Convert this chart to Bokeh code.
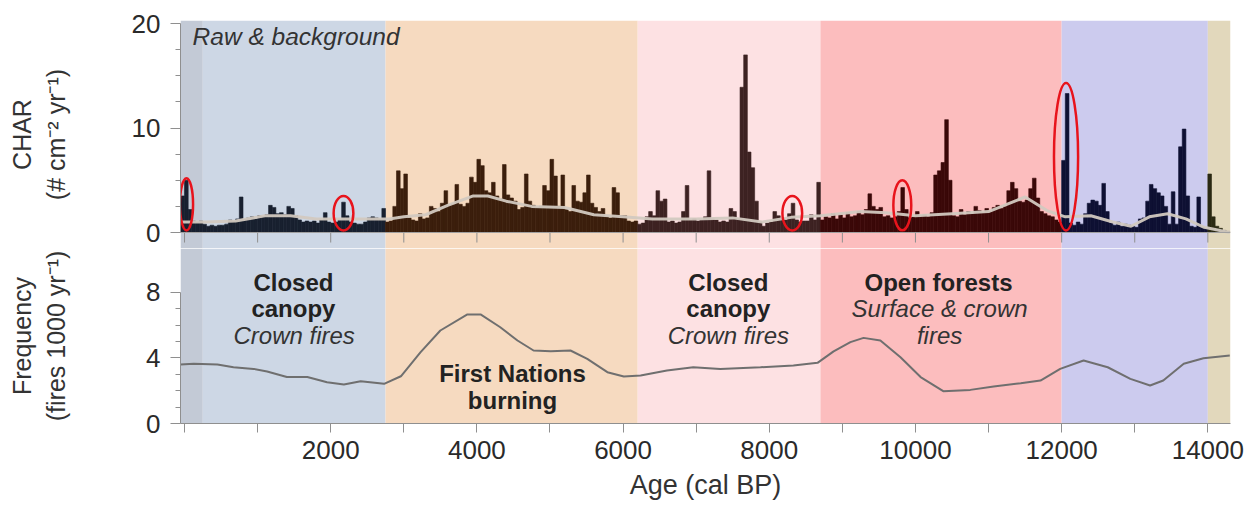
import numpy as np
from bokeh.plotting import figure
from bokeh.layouts import column
from bokeh.models import (ColumnDataSource, BoxAnnotation, FixedTicker, Range1d, Span)
from bokeh.core.properties import value
from bokeh.embed import file_html
from bokeh.resources import INLINE

FONT = "Liberation Sans"

# ---------------- data ----------------
# vegetation / fire-regime zones (cal BP)
zone_start = [-55, 250, 2750, 6200, 8700, 12000, 14000]
zone_end = [250, 2750, 6200, 8700, 12000, 14000, 14310]
zone_fill = ["#c3cad6", "#cdd7e5", "#f6dac0", "#fde1e3", "#fcbdbe", "#cccbee", "#e2d8bc"]
zone_bar = ["#18202f", "#18202f", "#3b1e0c", "#3d2222", "#3a0808", "#0e1033", "#2b2a14"]

# raw CHAR, 50-yr bins starting at -50 cal BP
char_bin_start = -50
char_bin_width = 50
char_pre = [3.5]
char_m00 = [5.0, 2.2, 1.1, 1.0, 1.1, 0.8, 0.6, 0.7, 0.6, 0.7, 0.7, 0.8, 1.2, 1.1, 1.3, 3.4, 1.3, 1.4, 1.5, 1.3]
char_m01 = [1.6, 1.5, 1.7, 2.6, 2.4, 1.8, 1.9, 1.7, 2.5, 2.3, 1.6, 1.2, 1.0, 1.1, 1.0, 1.1, 0.9, 1.2, 1.9, 1.0]
char_m02 = [0.9, 1.0, 1.2, 2.9, 1.6, 1.0, 0.9, 0.8, 0.8, 1.0, 1.4, 1.5, 1.4, 1.3, 2.3, 1.0, 1.1, 2.5, 5.9, 4.2]
char_m03 = [5.6, 1.4, 1.2, 1.1, 1.8, 1.3, 1.4, 2.5, 2.3, 2.0, 2.8, 4.0, 2.6, 2.7, 4.6, 2.7, 2.5, 2.8, 5.3, 4.8]
char_m04 = [7.0, 6.4, 4.0, 3.8, 4.8, 3.5, 3.2, 6.5, 3.6, 3.3, 3.0, 2.2, 2.4, 5.6, 3.0, 2.6, 2.4, 2.5, 4.5, 4.0]
char_m05 = [7.0, 5.4, 2.5, 5.5, 2.2, 2.0, 4.5, 3.0, 2.9, 3.8, 5.5, 2.8, 2.4, 2.0, 2.3, 1.5, 1.4, 4.3, 3.8, 1.6]
char_m06 = [1.6, 1.1, 1.0, 1.1, 0.8, 0.9, 1.5, 2.0, 1.6, 4.0, 3.0, 3.2, 1.0, 1.1, 0.9, 1.0, 2.0, 4.5, 1.2, 1.3]
char_m07 = [1.1, 1.2, 1.5, 5.9, 1.3, 1.2, 1.0, 1.1, 1.0, 2.3, 2.0, 1.3, 13.9, 17.0, 7.7, 6.2, 3.0, 1.0, 0.6, 0.9]
char_m08 = [1.0, 2.0, 1.6, 1.3, 1.2, 1.8, 2.8, 1.2, 1.0, 1.1, 1.1, 1.7, 1.2, 4.8, 1.2, 1.5, 1.4, 1.8, 1.3, 1.7]
char_m09 = [1.4, 1.9, 1.5, 1.6, 2.0, 1.7, 2.2, 3.7, 2.5, 2.2, 2.4, 1.5, 1.6, 1.4, 1.5, 2.0, 4.3, 2.2, 1.4, 1.5]
char_m10 = [2.0, 1.6, 1.7, 1.5, 1.9, 5.5, 5.9, 6.7, 10.8, 5.0, 1.6, 1.5, 2.2, 1.7, 2.0, 1.8, 2.5, 2.1, 1.9, 2.3]
char_m11 = [2.0, 2.4, 2.6, 2.3, 2.5, 4.0, 4.8, 4.2, 3.0, 2.9, 3.1, 4.2, 5.2, 3.3, 2.0, 1.8, 1.6, 1.5, 1.2, 1.0]
char_m12 = [6.9, 13.3, 0.9, 0.7, 1.0, 0.8, 1.8, 2.8, 3.1, 3.0, 2.6, 4.7, 2.0, 0.9, 0.7, 1.0, 0.6, 0.8, 0.7, 0.6]
char_m13 = [0.5, 1.3, 1.4, 3.0, 4.6, 4.2, 3.8, 3.5, 2.5, 0.8, 3.9, 0.8, 8.2, 9.9, 3.5, 0.6, 0.5, 3.4, 0.5, 0.4]
char_m14 = [5.6, 1.5, 0.6, 0.4, 0.2, 0.1]

# background CHAR (smoothed)
bg_age = [-55, 300, 700, 1100, 1450, 1800, 2300, 2800, 3000, 3300, 3600, 3950, 4150, 4400, 4750,
          5200, 5600, 6000, 6400, 7000, 7500, 7900, 8300, 8700, 9250, 9600, 10000, 10500, 11000,
          11500, 11800, 12050, 12400, 12700, 12950, 13200, 13450, 13700, 13950, 14300]
bg_val = [1.0, 1.0, 1.1, 1.6, 1.6, 1.3, 1.3, 1.3, 1.5, 1.7, 2.6, 3.5, 3.5, 3.0, 2.5,
          2.4, 1.7, 1.5, 1.3, 1.3, 1.4, 1.0, 1.45, 1.6, 2.0, 1.9, 1.6, 1.8, 2.0,
          3.4, 2.1, 1.5, 1.6, 1.0, 0.6, 1.5, 1.8, 1.3, 0.5, 0.0]

# fire frequency
freq_age = [-55, 125, 450, 670, 945, 1130, 1400, 1680, 1950, 2180, 2410, 2730, 2960, 3230, 3500,
            3870, 4050, 4320, 4555, 4775, 5010, 5280, 5510, 5785, 6010, 6240, 6600, 6960, 7330,
            7880, 8330, 8660, 8880, 9110, 9290, 9520, 9795, 10070, 10380, 10750, 11070, 11440,
            11710, 11980, 12300, 12630, 12940, 13210, 13390, 13670, 13940, 14300]
freq_val = [3.6, 3.64, 3.6, 3.43, 3.33, 3.17, 2.83, 2.83, 2.52, 2.38, 2.58, 2.42, 2.88, 4.35, 5.67,
            6.65, 6.65, 5.87, 5.06, 4.45, 4.4, 4.45, 3.94, 3.13, 2.87, 2.93, 3.23, 3.43, 3.33,
            3.43, 3.54, 3.7, 4.4, 4.96, 5.22, 5.06, 4.04, 2.83, 1.97, 2.05, 2.25, 2.46,
            2.62, 3.33, 3.84, 3.43, 2.72, 2.32, 2.62, 3.64, 3.98, 4.15]

# highlighted peaks (red ellipses): age, CHAR centre, age width, CHAR height
peak_age = [27, 2175, 8315, 9820, 12060]
peak_char = [2.7, 1.85, 1.85, 2.6, 7.25]
peak_w = [180, 270, 270, 245, 330]
peak_h = [5.0, 3.3, 3.3, 4.8, 14.1]

# panel annotations
bold_text = ["Closed", "canopy", "Closed", "canopy", "First Nations", "burning", "Open forests"]
bold_x = [1490, 1490, 7440, 7440, 4487, 4487, 10315]
bold_y = [8.6, 7.0, 8.6, 7.0, 3.05, 1.4, 8.6]
ital_text = ["Crown fires", "Crown fires", "Surface & crown", "fires"]
ital_x = [1500, 7440, 10330, 10330]
ital_y = [5.37, 5.37, 7.0, 5.37]

x_ticks = [0, 1000, 2000, 3000, 4000, 5000, 6000, 7000, 8000, 9000, 10000, 11000, 12000, 13000, 14000]
x_labels = {0: "", 1000: "", 2000: "2000", 3000: "", 4000: "4000", 5000: "", 6000: "6000",
            7000: "", 8000: "8000", 9000: "", 10000: "10000", 11000: "", 12000: "12000",
            13000: "", 14000: "14000"}

# ---------------- build ----------------
char_vals = (char_pre + char_m00 + char_m01 + char_m02 + char_m03 + char_m04 + char_m05 + char_m06
             + char_m07 + char_m08 + char_m09 + char_m10 + char_m11 + char_m12 + char_m13 + char_m14)
centers = char_bin_start + char_bin_width * (np.arange(len(char_vals)) + 0.5)
zi = np.clip(np.searchsorted(zone_start, centers, side="right") - 1, 0, len(zone_bar) - 1)
bar_colors = [zone_bar[i] for i in zi]
bar_src = ColumnDataSource(dict(x=centers, top=char_vals, color=bar_colors))

xr = Range1d(-55, 14310)
AX = "#8f8f8f"
TXT = "#2a2a2a"
W = 1245
TOP_BOTTOM = -1.53   # CHAR value at the lower edge of the top panel
TICK_END = -0.96     # CHAR value where the x tick marks under the baseline end


def add_zones(p):
    for s, e, c in zip(zone_start, zone_end, zone_fill):
        p.add_layout(BoxAnnotation(left=s, right=e, fill_color=c, fill_alpha=1.0,
                                   line_color=None, level="underlay"))


def style_y(ax, ticks, minor, bounds, label, standoff):
    ax.ticker = FixedTicker(ticks=ticks, minor_ticks=minor)
    ax.bounds = bounds
    ax.axis_line_color = AX
    ax.major_tick_line_color = AX
    ax.minor_tick_line_color = AX
    ax.major_tick_out = 10
    ax.major_tick_in = 0
    ax.minor_tick_out = 5
    ax.minor_tick_in = 0
    ax.major_label_text_font = FONT
    ax.major_label_text_font_size = "26px"
    ax.major_label_text_color = TXT
    ax.major_label_standoff = 10
    ax.axis_label = label
    ax.axis_label_text_font = FONT
    ax.axis_label_text_font_size = "25px"
    ax.axis_label_text_font_style = "normal"
    ax.axis_label_text_color = "#333333"
    ax.axis_label_standoff = standoff


# top panel: CHAR
p1 = figure(width=W, height=248, x_range=xr, y_range=Range1d(TOP_BOTTOM, 20.29),
            output_backend="svg", toolbar_location=None, x_axis_location=None,
            min_border_left=180, min_border_right=15, min_border_top=20, min_border_bottom=0)
p1.outline_line_color = None
p1.grid.visible = False
add_zones(p1)
p1.vbar(x="x", top="top", bottom=0, width=char_bin_width, fill_color="color",
        line_color="color", line_width=0.6, source=bar_src)
p1.line(bg_age, bg_val, line_color="#d2c9c0", line_width=3, line_alpha=0.95)
p1.ellipse(x=peak_age, y=peak_char, width=peak_w, height=peak_h, fill_alpha=0,
           line_color="#e8141c", line_width=2.5)
p1.add_layout(Span(location=0, dimension="width", line_color="#a0a0a0", line_width=1))
# x tick marks under the CHAR baseline (from the shared tick list)
p1.segment(x0=x_ticks, x1=x_ticks, y0=[0] * len(x_ticks), y1=[TICK_END] * len(x_ticks),
           line_color=AX, line_width=1)
p1.text(x=[110], y=[18.75], text=["Raw & background"], text_font=value(FONT),
        text_font_size="24.5px", text_font_style="italic", text_color="#333333",
        text_align="left", text_baseline="middle")
style_y(p1.yaxis[0], [0, 10, 20], [2.5, 5, 7.5, 12.5, 15, 17.5], (0, 20),
        "CHAR\n(# cm\u207b\u00b2 yr\u207b\u00b9)", 59)

# bottom panel: fire frequency
p2 = figure(width=W, height=261, x_range=xr, y_range=Range1d(0, 10.67),
            output_backend="svg", toolbar_location=None,
            min_border_left=180, min_border_right=15, min_border_top=0, min_border_bottom=86)
p2.outline_line_color = None
p2.grid.visible = False
add_zones(p2)
p2.line(freq_age, freq_val, line_color="#6f6f6f", line_width=2)
p2.text(x=bold_x, y=bold_y, text=bold_text, text_font=value(FONT), text_font_size="24px",
        text_font_style="bold", text_color="#222222", text_align="center", text_baseline="middle")
p2.text(x=ital_x, y=ital_y, text=ital_text, text_font=value(FONT), text_font_size="24px",
        text_font_style="italic", text_color="#333333", text_align="center", text_baseline="middle")
style_y(p2.yaxis[0], [0, 4, 8], [1, 2, 3, 5, 6, 7], (0, 8),
        "Frequency\n(fires 1000 yr\u207b\u00b9)", 73)
xa = p2.xaxis[0]
xa.ticker = FixedTicker(ticks=x_ticks, minor_ticks=[])
xa.major_label_overrides = x_labels
xa.axis_line_color = AX
xa.major_tick_line_color = AX
xa.major_tick_out = 9
xa.major_tick_in = 0
xa.major_label_text_font = FONT
xa.major_label_text_font_size = "26px"
xa.major_label_text_color = TXT
xa.major_label_standoff = 8
xa.axis_label = "Age (cal BP)"
xa.axis_label_text_font = FONT
xa.axis_label_text_font_size = "27px"
xa.axis_label_text_font_style = "normal"
xa.axis_label_text_color = "#333333"
xa.axis_label_standoff = 8

layout = column(p1, p2, spacing=0)
open("out.html", "w").write(file_html(layout, INLINE))
